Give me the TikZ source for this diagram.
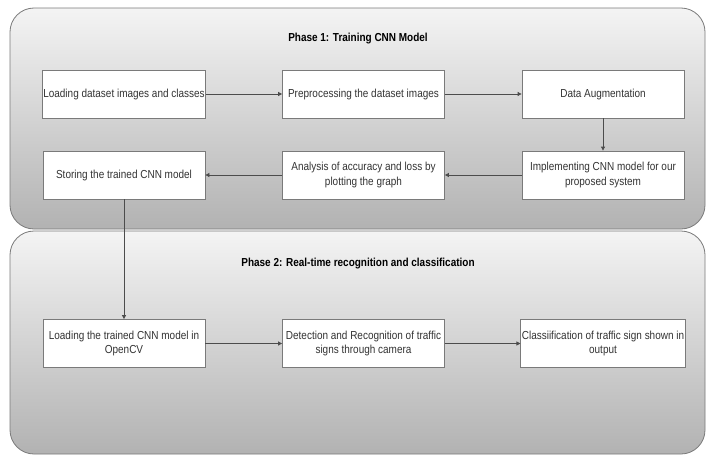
\documentclass[tikz,border=0pt]{standalone}
\usepackage{fontspec}
\setmainfont{Liberation Sans}[FakeStretch=0.86]
\usetikzlibrary{arrows.meta}
\definecolor{gtop}{HTML}{F4F4F4}
\definecolor{gbot}{HTML}{B2B2B2}
\definecolor{edge}{HTML}{7A7A7A}
\definecolor{txt}{HTML}{333333}
\begin{document}
\begin{tikzpicture}[x=1pt,y=-1pt,
  phase/.style={draw=edge, line width=0.8pt, rounded corners=24pt, top color=gtop, bottom color=gbot},
  stepbox/.style={draw=edge, fill=white, line width=0.8pt, minimum width=162pt, minimum height=48pt, align=center, inner sep=1pt, font=\fontsize{11.6}{14.5}\selectfont, text=txt},
  ttl/.style={font=\fontsize{11.6}{14}\selectfont\bfseries, text=black},
  conn/.style={draw=black!70, line width=0.8pt, -{Triangle[length=4pt,width=4pt]}}]
\useasboundingbox (0,0) rectangle (709,455);
\fill[white] (0,0) rectangle (709,455);
\draw[phase] (10,8) rectangle (705,229);
\draw[phase] (10,231) rectangle (705,454);
\node[ttl] (t1) at (358,39) {Phase 1: Training CNN Model};
\node[ttl] (t2) at (358,264) {Phase 2: Real-time recognition and classification};
\node[stepbox] (a) at (124,94) {Loading dataset images and classes};
\node[stepbox] (b) at (363.5,94) {Preprocessing the dataset images};
\node[stepbox] (c) at (603,94) {Data Augmentation};
\node[stepbox] (d) at (603,175) {Implementing CNN model for our\\proposed system};
\node[stepbox] (e) at (363.5,175) {Analysis of accuracy and loss by\\plotting the graph};
\node[stepbox] (f) at (124,175) {Storing the trained CNN model};
\node[stepbox] (g) at (124,343.5) {Loading the trained CNN model in\\OpenCV};
\node[stepbox] (h) at (363.5,343.5) {Detection and Recognition of traffic\\signs through camera};
\node[stepbox] (i) at (603,343.5) {Classiification of traffic sign shown in\\output};
\draw[conn] (a) -- (b);
\draw[conn] (b) -- (c);
\draw[conn] (c) -- (d);
\draw[conn] (d) -- (e);
\draw[conn] (e) -- (f);
\draw[conn] (f) -- (g);
\draw[conn] (g) -- (h);
\draw[conn] (h) -- (i);
\end{tikzpicture}
\end{document}
